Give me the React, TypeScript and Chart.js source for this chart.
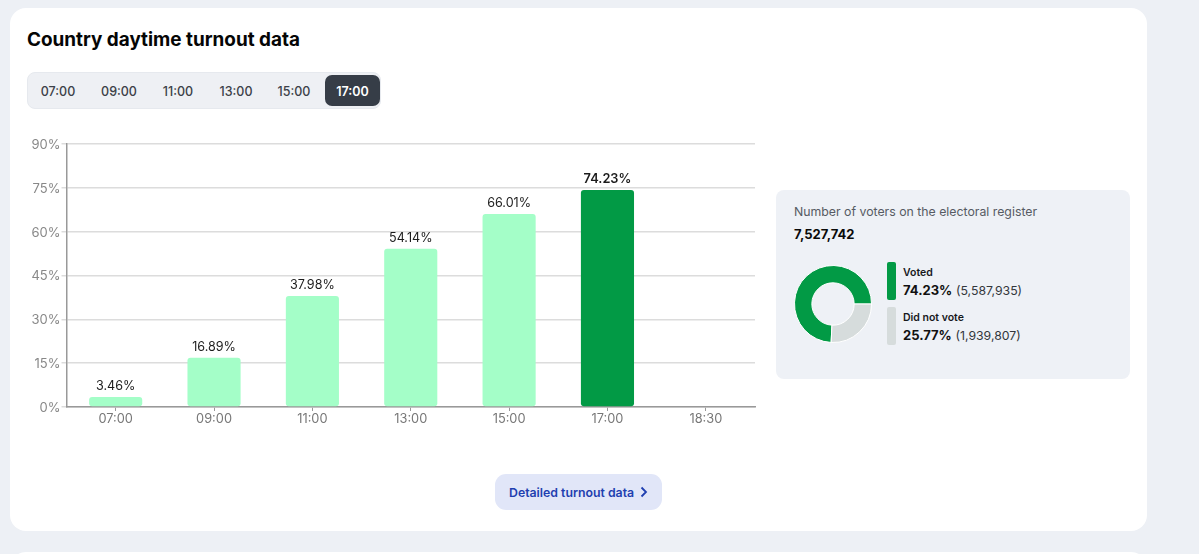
import { useEffect, useRef } from "react"
import { Chart, registerables } from "chart.js"
import type { Plugin } from "chart.js"

Chart.register(...registerables)

const hours = ["07:00", "09:00", "11:00", "13:00", "15:00", "17:00", "18:30"]
const turnout = [3.46, 16.89, 37.98, 54.14, 66.01, 74.23, null]
const barLabels = ["3.46%", "16.89%", "37.98%", "54.14%", "66.01%", "74.23%", ""]
const pills = ["07:00", "09:00", "11:00", "13:00", "15:00", "17:00"]
const shareLabels = ["Voted", "Did not vote"]
const shareValues = [74.23, 25.77]
const shareCounts = ["(5,587,935)", "(1,939,807)"]

const LIGHT = "#a4fec8"
const GREEN = "#029a45"
const GREY = "#d6dcdc"
const FONT = "Inter, sans-serif"

// draws the percentage above each bar
const barLabelPlugin: Plugin<"bar"> = {
  id: "barLabels",
  afterDatasetsDraw(chart) {
    const { ctx } = chart
    chart.getDatasetMeta(0).data.forEach((bar, i) => {
      if (!barLabels[i]) return
      ctx.save()
      ctx.font = `${i === 5 ? 600 : 400} ${i === 5 ? 12.8 : 12.6}px ${FONT}`
      ctx.fillStyle = "#1c1c1c"
      ctx.textAlign = "center"
      ctx.textBaseline = "bottom"
      ctx.fillText(barLabels[i], bar.x, bar.y - 4.6)
      ctx.restore()
    })
  },
}

export default function App() {
  const barRef = useRef<HTMLCanvasElement | null>(null)
  const donutRef = useRef<HTMLCanvasElement | null>(null)

  useEffect(() => {
    if (!barRef.current || !donutRef.current) return

    const bars = new Chart(barRef.current, {
      type: "bar",
      data: {
        labels: hours,
        datasets: [
          {
            data: turnout,
            backgroundColor: hours.map((_, i) => (i === 5 ? GREEN : LIGHT)),
            borderRadius: 3,
            borderSkipped: false,
            categoryPercentage: 1,
            barPercentage: 0.54,
          },
        ],
      },
      options: {
        responsive: false,
        animation: false,
        layout: { padding: { top: 14, right: 15 } },
        plugins: { legend: { display: false }, tooltip: { enabled: false } },
        scales: {
          x: {
            afterFit: (scale) => {
              scale.height = 33
            },
            grid: { offset: false, drawOnChartArea: false, tickLength: 4, color: "#999999" },
            border: { color: "#999999", width: 1.5 },
            ticks: { color: "#777777", font: { family: FONT, size: 12.8 }, padding: 0 },
          },
          y: {
            min: 0,
            max: 90,
            afterFit: (scale) => {
              scale.width = 46.5
            },
            grid: { color: "#dcdcdc", tickLength: 5, lineWidth: 1.5 },
            border: { color: "#999999", width: 1.5 },
            ticks: {
              stepSize: 15,
              color: "#888888",
              padding: 1,
              labelOffset: 1,
              font: { family: FONT, size: 13 },
              callback: (v) => `${v}%`,
            },
          },
        },
      },
      plugins: [barLabelPlugin],
    })

    const donut = new Chart(donutRef.current, {
      type: "doughnut",
      data: {
        labels: shareLabels,
        datasets: [
          {
            data: shareValues,
            backgroundColor: [GREEN, GREY],
            borderColor: "#ffffff",
            borderWidth: 1,
          },
        ],
      },
      options: {
        responsive: false,
        animation: false,
        rotation: 182.8,
        cutout: "55%",
        plugins: { legend: { display: false }, tooltip: { enabled: false } },
      },
    })

    return () => {
      bars.destroy()
      donut.destroy()
    }
  }, [])

  return (
    <div
      style={{
        position: "fixed",
        left: 0,
        top: 0,
        width: 1199,
        height: 554,
        overflow: "hidden",
        background: "#edf0f5",
        fontFamily: FONT,
      }}
    >
      <div style={{ position: "absolute", left: 10, top: 8, width: 1137, height: 523, background: "#fff", borderRadius: 16 }} />
      <div style={{ position: "absolute", left: 10, top: 552, width: 1137, height: 40, background: "#fff", borderRadius: 16 }} />

      <div style={{ position: "absolute", left: 27, top: 27, fontSize: 18.9, lineHeight: "26px", fontWeight: 700, color: "#050505" }}>
        Country daytime turnout data
      </div>

      <div style={{ position: "absolute", left: 27, top: 72, width: 354, height: 37, boxSizing: "border-box", background: "#eef0f4", border: "1px solid #e6e9ee", borderRadius: 8 }} />
      {pills.map((p, i) => (
        <div
          key={p}
          style={{
            position: "absolute",
            left: [30, 90, 152, 207, 267, 325][i],
            top: 75,
            width: [56, 58, 52, 58, 54, 55][i],
            height: 31,
            lineHeight: "33px",
            textAlign: "center",
            fontSize: 12.5,
            fontWeight: i === 5 ? 600 : 500,
            color: i === 5 ? "#fff" : "#3c4148",
            background: i === 5 ? "#363d47" : "transparent",
            borderRadius: 7,
          }}
        >
          {p}
        </div>
      ))}

      <canvas ref={barRef} width={750} height={310} style={{ position: "absolute", left: 20, top: 130, width: 750, height: 310 }} />

      <div style={{ position: "absolute", left: 776, top: 190, width: 354, height: 189, background: "#eef1f6", borderRadius: 8 }} />
      <div style={{ position: "absolute", left: 794, top: 204, fontSize: 12.3, lineHeight: "16px", color: "#565b63" }}>
        Number of voters on the electoral register
      </div>
      <div style={{ position: "absolute", left: 794, top: 226, fontSize: 13, lineHeight: "17px", fontWeight: 700, color: "#0a0a0a" }}>
        7,527,742
      </div>

      <canvas ref={donutRef} width={78} height={78} style={{ position: "absolute", left: 794, top: 265, width: 78, height: 78 }} />

      {shareLabels.map((label, i) => (
        <div key={label}>
          <div
            style={{
              position: "absolute",
              left: 887,
              top: 262 + i * 45,
              width: 9,
              height: 38,
              borderRadius: 2,
              background: i === 0 ? GREEN : GREY,
            }}
          />
          <div style={{ position: "absolute", left: 903, top: 266 + i * 45, fontSize: 10.5, lineHeight: "14px", fontWeight: 600, color: "#17191c" }}>
            {label}
          </div>
          <div style={{ position: "absolute", left: 903, top: 282 + i * 45, fontSize: 13, lineHeight: "17px", color: "#33373c", whiteSpace: "nowrap" }}>
            <span style={{ fontWeight: 700, color: "#111" }}>{shareValues[i].toFixed(2)}%</span>{" "}
            <span style={{ fontSize: 12.3 }}>{shareCounts[i]}</span>
          </div>
        </div>
      ))}

      <div
        style={{
          position: "absolute",
          left: 495,
          top: 474,
          width: 167,
          height: 36,
          background: "#e1e6f8",
          borderRadius: 11,
          color: "#1f3fb0",
          fontSize: 12.3,
          fontWeight: 600,
          lineHeight: "37px",
          paddingLeft: 14,
          boxSizing: "border-box",
          whiteSpace: "nowrap",
        }}
      >
        Detailed turnout data
        <svg width="8" height="12" viewBox="0 0 8 12" style={{ marginLeft: 6, verticalAlign: "-1px" }}>
          <path d="M1.5 1.5 L6 6 L1.5 10.5" fill="none" stroke="#1f3fb0" strokeWidth="1.8" />
        </svg>
      </div>
    </div>
  )
}
